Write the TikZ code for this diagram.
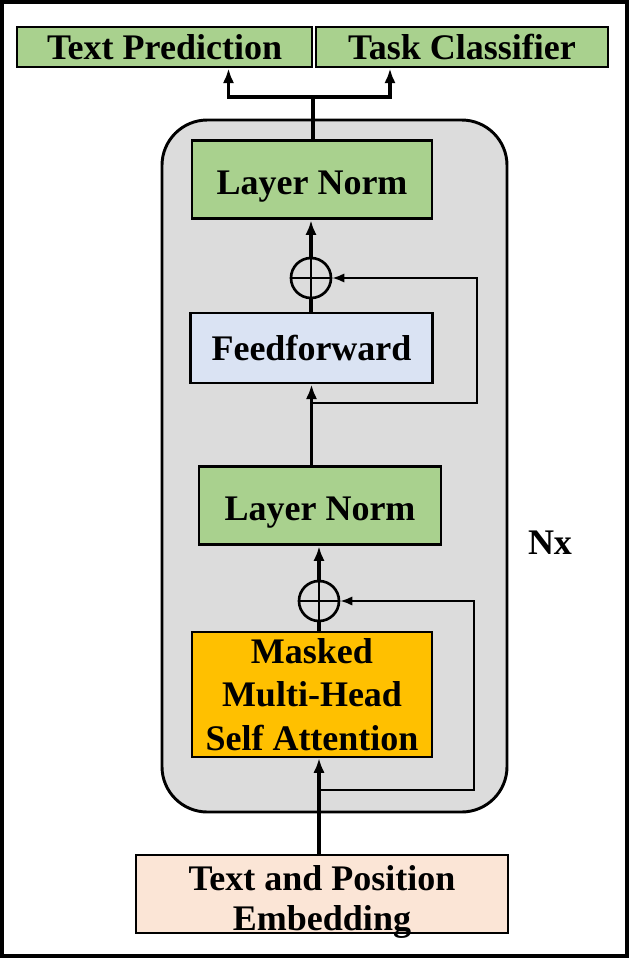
\documentclass[tikz,border=0pt]{standalone}
\usepackage{fontspec}
\setmainfont{Liberation Serif}
\usetikzlibrary{arrows.meta,positioning,calc}

\definecolor{headgreen}{HTML}{A9D18E}
\definecolor{ffblue}{HTML}{DAE3F3}
\definecolor{attnorange}{HTML}{FFC000}
\definecolor{embpeach}{HTML}{FBE5D6}
\definecolor{blockgray}{HTML}{DCDCDC}

\begin{document}
\begin{tikzpicture}[
  x=0.75pt,y=-0.75pt,
  blk/.style={draw,line width=2.2pt,align=center,inner sep=0pt,
    font=\fontsize{27}{32}\selectfont\bfseries},
  lowtxt/.style={text height=22.7pt,text depth=0pt},
  addop/.style={draw,circle,line width=2pt,minimum size=30pt,inner sep=0pt,
    path picture={\draw[line width=2pt]
      (path picture bounding box.north) -- (path picture bounding box.south)
      (path picture bounding box.west) -- (path picture bounding box.east);}},
  arr/.style={-{Latex[length=11pt,width=8.5pt]},line width=2.4pt},
  skip/.style={-{Latex[length=9pt,width=7pt]},line width=1.5pt}
]
\useasboundingbox (0,0) rectangle (630,958);
\draw[line width=2.4pt] (2,2) rectangle (627,956);

% repeated block
\node[draw,fill=blockgray,line width=2.2pt,rounded corners=34pt,
  minimum width=258.75pt,minimum height=519pt] (block) at (334.5,466) {};

\node[blk,fill=headgreen,minimum width=221.25pt,minimum height=30pt] (pred) at (164.5,47) {Text Prediction};
\node[blk,fill=headgreen,minimum width=219pt,minimum height=30pt] (cls) at (462,47) {Task Classifier};

\node[blk,lowtxt,fill=headgreen,minimum width=180pt,minimum height=59pt] (ln2) at (312,179.5) {Layer Norm};
\node[addop] (add2) at (311,278) {};
\node[blk,fill=ffblue,minimum width=182pt,minimum height=52.5pt] (ff) at (311.5,348) {Feedforward};
\node[blk,lowtxt,fill=headgreen,minimum width=181.5pt,minimum height=59pt] (ln1) at (320,505.5) {Layer Norm};
\node[addop] (add1) at (319,601) {};
\node[blk,fill=attnorange,line width=1.5pt,minimum width=180pt,minimum height=94pt,
  font=\fontsize{27}{32.5}\selectfont\bfseries] (attn) at (312,694.5) {Masked\\Multi-Head\\Self Attention};
\node[blk,fill=embpeach,text height=54.5pt,text depth=0pt,minimum width=279pt,minimum height=58.5pt,
  font=\fontsize{27}{30}\selectfont\bfseries] (emb) at (322,894) {Text and Position\\Embedding};
\node[font=\fontsize{27}{32}\selectfont\bfseries] (nx) at (550,543) {Nx};

% main path
\draw[arr] (emb.north -| add1) -- (attn.south -| add1);
\draw[line width=2.4pt] (attn.north -| add1) -- (add1);
\draw[arr] (add1.north) -- (ln1.south -| add1);
\draw[arr] (ln1.north -| ff.south) -- (ff.south);
\draw[line width=2.4pt] (ff.north -| add2) -- (add2);
\draw[arr] (add2.north) -- (ln2.south -| add2);

% residual connections
\coordinate (res1) at (319,790);
\coordinate (res2) at (311,403);
\draw[skip] (res1) -- ++(155,0) |- (add1.east);
\draw[skip] (res2) -- ++(166,0) |- (add2.east);

% outputs
\coordinate (split) at (313,97);
\draw[line width=2.4pt] (ln2.north -| split) -- (split);
\draw[arr] (split) -| ($(pred.south)+(64,0)$);
\draw[arr] (split) -| ($(cls.south)+(-72,0)$);
\end{tikzpicture}
\end{document}
